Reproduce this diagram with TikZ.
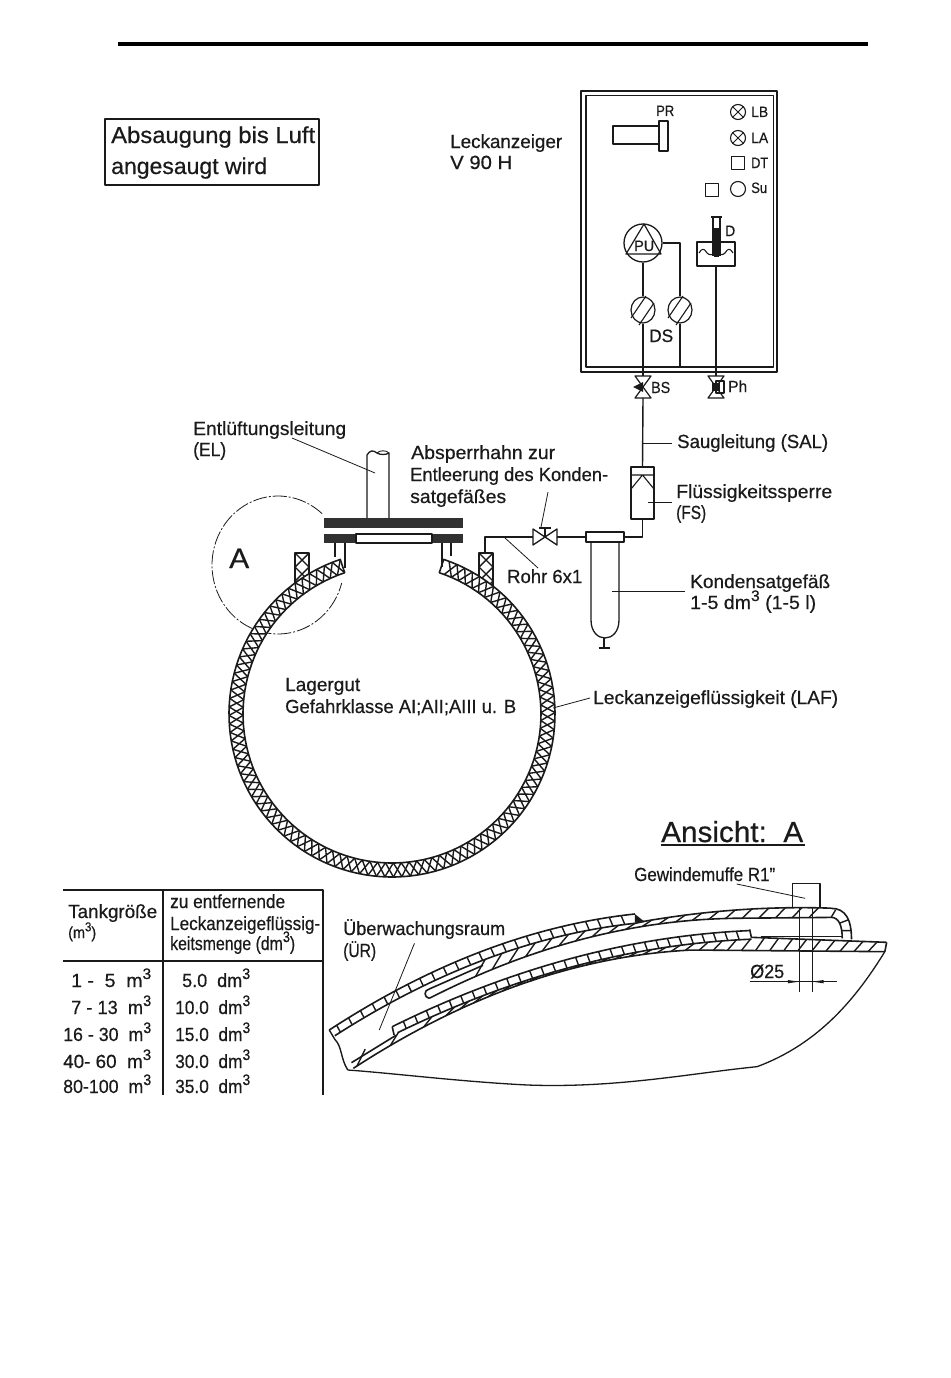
\documentclass[tikz,border=0pt]{standalone}
\usepackage{fontspec}
\usepackage{graphicx}
\setmainfont{Liberation Sans}[FakeBold=0.6]
\usetikzlibrary{shapes.geometric,arrows.meta}
\newcommand\tw[3][19]{\resizebox{#2pt}{\height}{\fontsize{#1pt}{#1pt}\selectfont\addfontfeatures{FakeBold=0.5}#3}}
\newcommand\cub{\raisebox{.42em}{\scalebox{.8}{3}}}
\definecolor{ink}{HTML}{1A1A1A}
\tikzset{
 lbl/.style={inner sep=0,anchor=base west,text=ink},
 pipe/.style={line width=1.4pt,draw=ink},
 thin line/.style={line width=.8pt,draw=ink},
 hatchline/.style={line width=1.4pt,draw=ink},
 lamp/.style={circle,draw=ink,line width=1.1pt,inner sep=0,minimum size=15pt},
 sq/.style={rectangle,draw=ink,line width=1.1pt,inner sep=0,minimum size=12.5pt},
 filt/.style={ellipse,draw=ink,line width=1.2pt,inner sep=0,minimum width=24pt,minimum height=26pt}
}
\begin{document}
\begin{tikzpicture}[x={(1pt,0)},y={(0,-1pt)},line join=round,
 declare function={
  tx(\r,\a)=392+\r*cos(\a);
  ty(\r,\a)=714-\r*sin(\a);
  edgea(\x)=660-0.5867*(\x-25)+0.000366*(\x-25)*(\x-400);
  edgeb(\x)=(\x<860)?(edgea(\x)+28):(335-0.1435*(\x-870)+0.000232*(\x-870)*(\x-1100));
  edgec(\x)=(\x<1100)?(565-0.432*(\x-295)+0.000335*(\x-295)*(\x-700)):(325-0.01*(\x-1100));
  edged(\x)=650-0.444*(\x-195)+0.000253*(\x-195)*(\x-600);
  edgee(\x)=(\x<1165)?(edged(\x)+26):(382+0.041*(\x-1165));
  edgef(\x)=(\x<1000)?(775-0.573*(\x-90)+0.000366*(\x-90)*(\x-500)):(420+0.0095*(\x-1000));
 }]
\useasboundingbox (0,0) rectangle (950,1378);
\fill[white] (0,0) rectangle (950,1378);
% top rule
\coordinate (ruleL) at (118,44); \coordinate (ruleR) at (868,44);
\draw[line width=4pt,black] (ruleL) -- (ruleR);
% note box
\node[rectangle,draw=ink,line width=1.4pt,minimum width=214pt,minimum height=66pt,inner sep=0] (note) at (212,152) {};
\node[lbl] (t1) at (111,143) {\tw[23]{204}{Absaugung bis Luft}};
\node[lbl] (t2) at (111,174) {\tw[23]{156}{angesaugt wird}};
\node[lbl] (t3) at (450,148) {\tw{112}{Leckanzeiger}};
\node[lbl] (t4) at (450,169) {\tw{62}{V 90 H}};
% control box
\draw[line width=2pt,ink] (581,91) rectangle (777,372);
\draw[line width=1.6pt,ink] (586,95.5) rectangle (773.5,367);
% PR
\draw[line width=1.2pt,ink] (613,126) rectangle (659,144);
\draw[line width=1.2pt,ink] (659,121) rectangle (668,151);
\node[lbl] (pr) at (656,116) {\tw[15]{18}{PR}};
% lamps
\node[lamp] (lb) at (738,112) {};
\draw[thin line] (lb.north west) -- (lb.south east) (lb.south west) -- (lb.north east);
\node[lamp] (la) at (738,138) {};
\draw[thin line] (la.north west) -- (la.south east) (la.south west) -- (la.north east);
\node[sq] (dt) at (738,163) {};
\node[lamp] (su) at (738,189) {};
\node[sq] (sq2) at (712,190) {};
\node[lbl] (lbt) at (751,117) {\tw[15]{17}{LB}};
\node[lbl] (lat) at (751,143) {\tw[15]{17}{LA}};
\node[lbl] (dtt) at (751,168) {\tw[15]{17}{DT}};
\node[lbl] (sut) at (751,193) {\tw[15]{16}{Su}};
% pump
\node[circle,draw=ink,line width=1.3pt,inner sep=0,minimum size=38pt] (pu) at (643,243) {};
\draw[line width=1.2pt,ink] (644,224) -- (626,254) -- (661,254) -- cycle;
\node[lbl] (put) at (634,251) {\tw[15]{20}{PU}};
\node[filt] (f1) at (643,310) {};
\node[filt] (f2) at (680,310) {};
\foreach \c in {643,680} {
 \draw[line width=1.1pt,ink] (\c-12,318) -- (\c+3,296) (\c-4,325) -- (\c+11,303);
}
\coordinate (pj) at (680,243);
\coordinate (bsT) at (643,376);
\coordinate (f2B) at (680,367);
\draw[pipe] (pu.south) -- (f1.north);
\draw[pipe] (f1.south) -- (bsT);
\draw[thin line,line width=1.1pt] (pu.east) -- (pj) -- (f2.north);
\draw[thin line,line width=1.1pt] (f2.south) -- (f2B);
\node[lbl] (ds) at (649,342) {\tw[18]{24}{DS}};
% D
\draw[line width=1.2pt,ink] (697,242) rectangle (735,266);
\draw[line width=1.1pt,ink] (699,253) .. controls (702,248) and (704,248) .. (707,253) .. controls (710,256) and (712,254) .. (716,254) .. controls (720,254) and (722,256) .. (725,253) .. controls (728,248) and (730,248) .. (733,253);
\draw[line width=1.1pt,ink] (711,217) -- (722,217) (713,217) -- (713,256) (720,217) -- (720,256);
\fill[ink] (714,228) rectangle (719,257);
\node[lbl] (dd) at (725,236) {\tw[15]{10}{D}};
\coordinate (dB) at (716,266); \coordinate (phT) at (716,376);
\draw[line width=1.1pt,ink] (dB) -- (phT);
% valves
\draw[line width=1.2pt,ink] (635,376) -- (651,376) -- (635,398) -- (651,398) -- cycle;
\fill[ink] (633,387) -- (643,382) -- (643,392) -- cycle;
\node[lbl] (bs) at (651,393) {\tw[16]{19}{BS}};
\draw[line width=1.2pt,ink] (708,376) -- (724,376) -- (708,398) -- (724,398) -- cycle;
\fill[ink] (712,383) rectangle (720,391);
\draw[line width=1.1pt,ink] (716,381) rectangle (724,393);
\node[lbl] (ph) at (728,392) {\tw[16]{19}{Ph}};
\coordinate (bsB) at (643,398);
% suction line and FS
\draw[line width=1.6pt,ink] (631,467) rectangle (654,519);
\draw[line width=1.1pt,ink] (631,475) -- (654,475) (631,489) -- (642.5,475) -- (654,489);
\coordinate (fsT) at (642.5,467); \coordinate (fsB) at (642.5,519); \coordinate (fsJ) at (642.5,537);
\coordinate (capR) at (624,537);
\draw[pipe] (bsB) -- (fsT);
\draw[pipe] (fsB) -- (fsJ) -- (capR);
\coordinate (sal1) at (642.5,443); \coordinate (sal2) at (672,443);
\draw[thin line] (sal1) -- (sal2);
\node[lbl] (sal) at (677,448) {\tw{151}{Saugleitung (SAL)}};
\coordinate (fsl1) at (648,502); \coordinate (fsl2) at (672,502);
\draw[thin line] (fsl1) -- (fsl2);
\node[lbl] (fs1) at (676,498) {\tw{156}{Flüssigkeitssperre}};
\node[lbl] (fs2) at (676,519) {\tw{30}{(FS)}};
% condensate vessel
\draw[line width=1.4pt,ink] (586,532) rectangle (624,542);
\draw[line width=1.3pt,ink] (591,542) -- (591,620) .. controls (591,632) and (598,638) .. (605,638) .. controls (612,638) and (619,632) .. (619,620) -- (619,542);
\draw[line width=1.1pt,ink] (604,638) -- (604,648) (598.5,648) -- (610,648);
\coordinate (kl1) at (612,591); \coordinate (kl2) at (685,591);
\draw[thin line] (kl1) -- (kl2);
\node[lbl] (k1) at (690,588) {\tw{140}{Kondensatgefäß}};
\node[lbl] (k2) at (690,609) {\tw{126}{1-5 dm\cub{} (1-5 l)}};
% pipe with stopcock
\coordinate (noz) at (485,553); \coordinate (nozC) at (485,537); \coordinate (vL) at (533,537); \coordinate (vR) at (557,537); \coordinate (capL) at (586,537);
\draw[pipe] (noz) -- (nozC) -- (vL);
\draw[pipe] (vR) -- (capL);
\draw[line width=1.3pt,ink] (533,529) -- (533,545) -- (557,529) -- (557,545) -- cycle;
\draw[line width=1.1pt,ink] (545,537) -- (545,528) (539,528) -- (551,528);
\coordinate (al1) at (548,492); \coordinate (al2) at (541,527);
\draw[thin line] (al1) -- (al2);
\coordinate (rl1) at (505,538); \coordinate (rl2) at (538,568);
\draw[thin line] (rl1) -- (rl2);
\node[lbl] (rohr) at (507,583) {\tw{75}{Rohr 6x1}};
\node[lbl] (a1) at (411,459) {\tw{144}{Absperrhahn zur}};
\node[lbl] (a2) at (410,481) {\tw{198}{Entleerung des Konden-}};
\node[lbl] (a3) at (410,503) {\tw{96}{satgefäßes}};
\node[lbl] (e1) at (193,435) {\tw{153}{Entlüftungsleitung}};
\node[lbl] (e2) at (193,456) {\tw{33}{(EL)}};
\coordinate (el1) at (292,438); \coordinate (el2) at (375,473);
\draw[thin line] (el1) -- (el2);
% vent pipe
\draw[line width=1.3pt,ink] (367,518) -- (367,455) .. controls (370,450) and (373,450) .. (377,453) .. controls (380,455) and (386,455) .. (389,453) -- (389,518);
\draw[line width=.9pt,ink] (377,453) .. controls (380,450) and (386,450) .. (389,453);
% detail circle A
\draw[thin line,dash pattern=on 14pt off 2pt on 2pt off 2pt] plot[domain=48:345,samples=70] ({278+66*cos(\x)},{565-69*sin(\x)});
\node[lbl] (aa) at (229,568) {\tw[28]{20}{A}};
% nozzles (hatched)
\foreach \l in {295,479} {
 \begin{scope}
  \clip (\l,553) rectangle (\l+14,592);
  \foreach \s in {-28,-14,...,56} {
   \draw[hatchline] (\l+\s-14,553) -- (\l+\s+26,593);
   \draw[hatchline] (\l-\s+28,553) -- (\l-\s-12,593);
  }
 \end{scope}
 \draw[line width=1.3pt,ink] (\l,590) -- (\l,553) -- (\l+14,553) -- (\l+14,590);
}
% tank wall
\fill[white] plot[domain=108.5:431.5,samples=120] ({tx(163,\x)},{ty(163,\x)}) -- plot[domain=431.5:108.5,samples=120] ({tx(149,\x)},{ty(149,\x)}) -- cycle;
\foreach \a in {108.5,111.5,...,428.5} {
 \draw[hatchline] ({tx(163,\a)},{ty(163,\a)}) -- ({tx(149,\a+3)},{ty(149,\a+3)});
 \draw[hatchline] ({tx(149,\a)},{ty(149,\a)}) -- ({tx(163,\a+3)},{ty(163,\a+3)});
}
\draw[line width=1.6pt,ink] plot[domain=108.5:431.5,samples=120] ({tx(163,\x)},{ty(163,\x)}) -- plot[domain=431.5:108.5,samples=120] ({tx(149,\x)},{ty(149,\x)}) -- cycle;
% flange
\fill[ink!90] (324,518) rectangle (463,528);
\fill[ink!90] (324,533.5) rectangle (356,543);
\fill[ink!90] (432,533.5) rectangle (463,543);
\draw[line width=1.1pt,ink] (356,534) rectangle (432,543);
\draw[line width=1.2pt,ink] (335,543) -- (335,557) (345,543) -- (345,568) (442,543) -- (442,567) (451,543) -- (451,556);
% tank labels
\node[lbl] (l1) at (285,691) {\tw{75}{Lagergut}};
\node[lbl] (l2) at (285,713) {\tw{231}{Gefahrklasse AI;AII;AIII u. B}};
\coordinate (lf1) at (553,708); \coordinate (lf2) at (590,698);
\draw[thin line] (lf1) -- (lf2);
\node[lbl] (laf) at (593,704) {\tw{245}{Leckanzeigeflüssigkeit (LAF)}};
% table
\coordinate (ta) at (63,890); \coordinate (tb) at (323,890); \coordinate (tc) at (323,1095);
\coordinate (td) at (163,890); \coordinate (te) at (163,1095); \coordinate (tf) at (63,961); \coordinate (tg) at (323,961);
\draw[line width=1.4pt,ink] (ta) -- (tb) -- (tc);
\draw[line width=1.3pt,ink] (td) -- (te);
\draw[line width=1.8pt,ink] (tf) -- (tg);
\node[lbl] (h1) at (68,918) {\tw{89}{Tankgröße}};
\node[lbl] (h2) at (68,938) {\tw[16]{28}{(m\cub)}};
\node[lbl] (h3) at (170,908) {\tw{115}{zu entfernende}};
\node[lbl] (h4) at (170,930) {\tw{150}{Leckanzeigeflüssig-}};
\node[lbl] (h5) at (170,950) {\tw{125}{keitsmenge (dm\cub)}};
\node[lbl] (r1a) at (71,987) {\tw{80}{1 -\ \ 5\ \ m\cub}};
\node[lbl] (r2a) at (71,1014) {\tw{80}{7 - 13\ \ m\cub}};
\node[lbl] (r3a) at (63,1041) {\tw{88}{16 - 30\ \ m\cub}};
\node[lbl] (r4a) at (63,1068) {\tw{88}{40- 60\ \ m\cub}};
\node[lbl] (r5a) at (63,1093) {\tw{88}{80-100\ \ m\cub}};
\node[lbl] (r1b) at (182,987) {\tw{68}{5.0\ \ dm\cub}};
\node[lbl] (r2b) at (175,1014) {\tw{75}{10.0\ \ dm\cub}};
\node[lbl] (r3b) at (175,1041) {\tw{75}{15.0\ \ dm\cub}};
\node[lbl] (r4b) at (175,1068) {\tw{75}{30.0\ \ dm\cub}};
\node[lbl] (r5b) at (175,1093) {\tw{75}{35.0\ \ dm\cub}};
% Ansicht A
\node[lbl] (ans) at (661,842) {\tw[29]{142}{Ansicht:\ \ A}};
\coordinate (ansL) at (661,845); \coordinate (ansR) at (805,845);
\draw[line width=1.1pt,ink] (ansL) -- (ansR);
\node[lbl] (gew) at (634,881) {\tw{141}{Gewindemuffe R1"}};
\node[lbl] (ub1) at (343,935) {\tw{162}{Überwachungsraum}};
\node[lbl] (ub2) at (343,957) {\tw{33}{(ÜR)}};
\node[lbl] (d25) at (750,978) {\tw{34}{Ø25}};
% detail in zoomed units
\begin{scope}[shift={(320,810)},x={(0.37037pt,0)},y={(0,-0.33333pt)}]
 % body
 \draw[line width=1.3pt,ink] (1525,425) .. controls (1450,560) and (1350,700) .. (1180,770) .. controls (1000,790) and (800,835) .. (560,825) .. controls (380,815) and (200,790) .. (75,780);
 % layer A
 \draw[line width=1.6pt,ink] plot[domain=25:850,samples=40] (\x,{edgea(\x)});
 \draw[line width=1.6pt,ink] plot[domain=40:875,samples=40] (\x,{edgeb(\x)});
 \draw[line width=1.4pt,ink] (25,660) -- (40,688) .. controls (60,710) and (55,745) .. (75,780);
 \foreach \p in {45,77,...,830} \draw[hatchline] (\p,{edgea(\p)}) -- ({\p+10},{edgeb(\p+10)});
 \fill[ink] (850,312) -- (876,335) -- (850,338) -- cycle;
 % layer B
 \draw[line width=1.6pt,ink] plot[domain=870:1380,samples=30] (\x,{edgeb(\x)});
 \draw[line width=1.6pt,ink] plot[domain=295:1380,samples=50] (\x,{edgec(\x)});
 \draw[line width=1.6pt,ink] (295,565) .. controls (280,562) and (280,540) .. (295,537) -- (440,466);
 \draw[line width=1.6pt,ink] (1380,295) .. controls (1420,295) and (1435,330) .. (1435,388);
 \draw[line width=1.6pt,ink] (1380,322) .. controls (1400,322) and (1410,345) .. (1410,385);
 \foreach \p in {420,465,...,1350} \draw[hatchline] (\p,{edgec(\p)}) -- ({\p+26},{edgeb(\p+26)});
 \draw[hatchline] (1392,300) -- (1380,322) (1425,330) -- (1402,340) (1435,362) -- (1410,362);
 % layer C
 \draw[line width=1.6pt,ink] plot[domain=195:1160,samples=40] (\x,{edged(\x)});
 \draw[line width=1.6pt,ink] plot[domain=210:1165,samples=40] (\x,{edgee(\x)});
 \draw[line width=1.6pt,ink] (195,650) -- (200,675) (1160,358) -- (1165,384);
 \foreach \p in {225,256,...,1140} \draw[hatchline] (\p,{edged(\p)}) -- ({\p+8},{edgee(\p+8)});
 % layer D
 \draw[line width=1.6pt,ink] (85,758) -- (205,676);
 \draw[line width=1.6pt,ink] plot[domain=1165:1530,samples=10] (\x,{edgee(\x)});
 \draw[line width=1.4pt,ink] (1190,380) -- (1410,380);
 \draw[line width=1.6pt,ink] plot[domain=90:1525,samples=50] (\x,{edgef(\x)});
 \draw[line width=1.6pt,ink] (1530,397) -- (1525,425);
 \foreach \p in {100,190,...,280} \draw[hatchline] (\p,{edgef(\p)}) -- ({\p+22},{edgee(\p+22)});
 \foreach \p in {340,378,...,1510} \draw[hatchline] (\p,{edgef(\p)}) -- ({\p+24},{edgee(\p+24)});
 % muffe and dimensions
 \draw[line width=1.1pt,ink] (1275,295) -- (1275,220) -- (1350,220) -- (1350,295);
 \coordinate (md1) at (1293,295); \coordinate (md2) at (1293,545);
 \coordinate (md3) at (1330,295); \coordinate (md4) at (1330,545);
 \draw[thin line] (md1) -- (md2) (md3) -- (md4);
 \coordinate (dl) at (1160,515); \coordinate (dr) at (1395,515); 
 \coordinate (da) at (1293,515); \coordinate (db) at (1330,515);
 \draw[thin line] (dl) -- (dr);
 \fill[ink] (da) -- +(-30,-5) -- +(-30,5) -- cycle;
 \fill[ink] (db) -- +(30,-5) -- +(30,5) -- cycle;
 \coordinate (gl1) at (1125,222); \coordinate (gl2) at (1310,265);
 \draw[thin line] (gl1) -- (gl2);
 \coordinate (ul1) at (255,400); \coordinate (ul2) at (160,660);
 \draw[thin line] (ul1) -- (ul2);
\end{scope}
\end{tikzpicture}
\end{document}
